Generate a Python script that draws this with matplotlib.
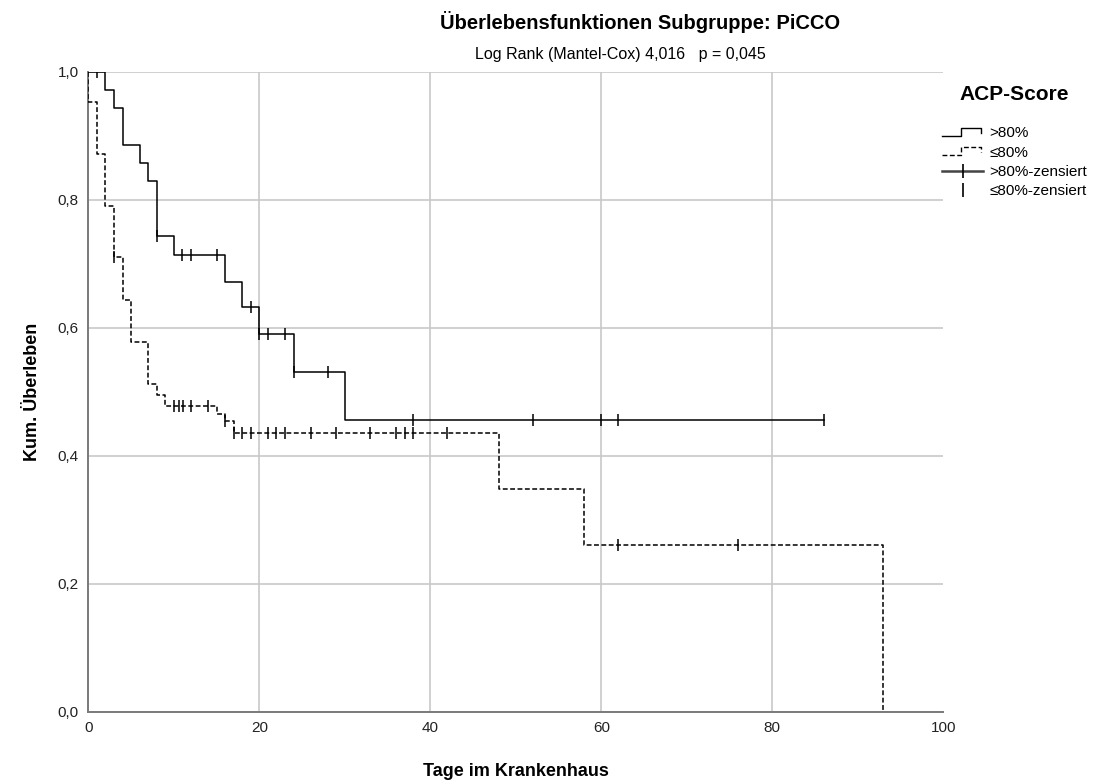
import numpy as np
import matplotlib
matplotlib.use("Agg")
import matplotlib.pyplot as plt
from matplotlib.lines import Line2D
from matplotlib.legend_handler import HandlerBase

plt.rcParams['font.family'] = ['Liberation Sans', 'DejaVu Sans']
plt.rcParams['lines.scale_dashes'] = False

# Kaplan-Meier Stufen, Gruppe >80%
hi_times = [0, 2, 3, 4, 6, 7, 8, 10, 16, 18, 20, 24, 30]
hi_surv = [1.0, 0.971, 0.943, 0.886, 0.857, 0.829, 0.743, 0.713, 0.672, 0.633, 0.590, 0.531, 0.456]
hi_cens = [1, 8, 11, 12, 15, 19, 20, 21, 23, 24, 28, 38, 52, 60, 62, 86]

# Gruppe <=80%
lo_times = [0, 1, 2, 3, 4, 5, 7, 8, 9, 15, 16, 17, 48, 58, 93]
lo_surv = [0.952, 0.871, 0.790, 0.710, 0.644, 0.578, 0.512, 0.495, 0.478, 0.465, 0.455, 0.435, 0.348, 0.261, 0.0]
lo_cens = [3, 10, 10.6, 11.1, 12, 14, 16, 17, 18, 19, 21, 22, 23, 26, 29, 33, 36, 37, 38, 42, 62, 76]

x_ticks = [0, 20, 40, 60, 80, 100]
y_ticks = [0.0, 0.2, 0.4, 0.6, 0.8, 1.0]

title = "Überlebensfunktionen Subgruppe: PiCCO"
subtitle = "Log Rank (Mantel-Cox) 4,016   p = 0,045"


def surv_at(times, surv, t):
    i = np.searchsorted(times, t, side='right') - 1
    return np.asarray(surv)[i]


class StepHandler(HandlerBase):
    def __init__(self, ls):
        super().__init__()
        self.ls = ls

    def create_artists(self, legend, orig_handle, xdescent, ydescent, width, height, fontsize, trans):
        x0 = -xdescent
        xs = [x0, x0 + 0.45 * width, x0 + 0.45 * width, x0 + 0.95 * width, x0 + 0.95 * width]
        ys = [0.1 * height, 0.1 * height, 0.9 * height, 0.9 * height, 0.4 * height]
        ln = Line2D(xs, ys, color='black', lw=1.0, linestyle=self.ls, transform=trans)
        return [ln]


fig = plt.figure(figsize=(11.2, 7.82), dpi=100)
ax = fig.add_axes([88.3 / 1120, 1 - 711.7 / 782, 855 / 1120, 640 / 782])

dash = (0, (3.5, 1.8))

# Kurven
hx = [0] + hi_times + [hi_cens[-1]]
hy = [1.0] + hi_surv + [hi_surv[-1]]
ax.step(hx, hy, where='post', color='black', lw=1.1, zorder=4)
lx = [0] + lo_times
ly = [1.0] + lo_surv
ax.step(lx, ly, where='post', color='black', lw=1.1, linestyle=dash, zorder=3)

# Zensierungen
ax.plot(hi_cens, surv_at(hi_times, hi_surv, hi_cens), linestyle='none', marker='|',
        ms=9, mew=1.1, color='black', zorder=5)
ax.plot(lo_cens, surv_at(lo_times, lo_surv, lo_cens), linestyle='none', marker='|',
        ms=8, mew=1.1, color='black', zorder=5)

ax.set_xlim(0, 100)
ax.set_ylim(0, 1.0)
ax.set_xticks(x_ticks)
ax.set_yticks(y_ticks)
ax.set_xticklabels([str(v) for v in x_ticks])
ax.set_yticklabels([f"{v:.1f}".replace('.', ',') for v in y_ticks])
ax.tick_params(length=0, labelsize=11, pad=7, colors='#222222')
ax.grid(True, color='#c8c8c8', lw=1.2)
ax.xaxis.get_gridlines()[-1].set_visible(False)
ax.set_axisbelow(True)
for s in ['top', 'right']:
    ax.spines[s].set_visible(False)
for s in ['left', 'bottom']:
    ax.spines[s].set_color('#7a7a7a')
    ax.spines[s].set_linewidth(1.4)

ax.set_xlabel("Tage im Krankenhaus", fontsize=13, fontweight='bold', labelpad=20)
ax.set_ylabel("Kum. Überleben", fontsize=13, fontweight='bold', labelpad=12)

fig.text(640 / 1120, 1 - 22 / 782, title, ha='center', va='center', fontsize=14.5, fontweight='bold')
fig.text(620 / 1120, 1 - 55 / 782, subtitle, ha='center', va='center', fontsize=11.5)

# Legende
h1 = Line2D([], [], color='black')
h2 = Line2D([], [], color='black', linestyle=dash)
h3 = Line2D([], [], color='#444444', lw=1.8, marker='|', ms=10, mew=1.2, mec='black')
h4 = Line2D([], [], linestyle='none', marker='|', ms=10, mew=1.2, color='black')
leg = fig.legend([h1, h2, h3, h4], [">80%", "≤80%", ">80%-zensiert", "≤80%-zensiert"],
                 loc='upper left', bbox_to_anchor=(942 / 1120, 1 - 85 / 782),
                 frameon=False, fontsize=11, title="ACP-Score",
                 title_fontproperties={'weight': 'bold', 'size': 15},
                 handler_map={h1: StepHandler('-'), h2: StepHandler(dash)},
                 handlelength=2.7, handletextpad=0.4, labelspacing=0.35,
                 borderpad=0, borderaxespad=0, numpoints=1)
leg._legend_box.sep = 16

fig.savefig("out.png", dpi=100, facecolor='white')
